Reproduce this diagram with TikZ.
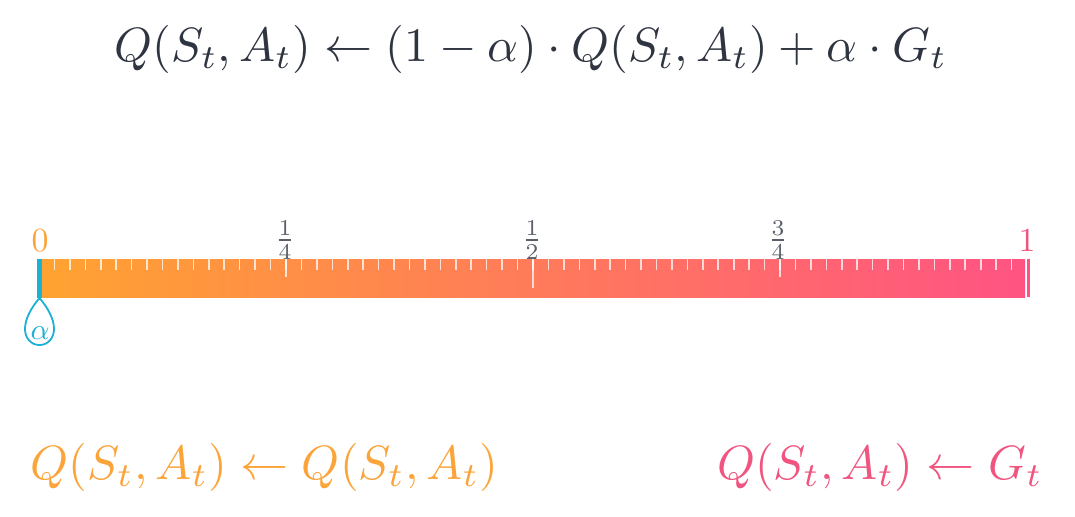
\documentclass[tikz,border=0pt]{standalone}
\usepackage{amsmath}
\usepackage{tikz}
\usetikzlibrary{positioning}
\definecolor{barOrange}{HTML}{FFA331}
\definecolor{barPink}{HTML}{FF5383}
\definecolor{txtOrange}{HTML}{FBA43A}
\definecolor{txtPink}{HTML}{F0557F}
\definecolor{eqDark}{HTML}{2E3440}
\definecolor{alphaCyan}{HTML}{1CB0D4}
\definecolor{tickGray}{HTML}{5A5F6A}

\begin{document}
\begin{tikzpicture}[
    x=0.025cm, y=-0.025cm,
    bigmath/.style={inner sep=0pt, scale=3.42},
    ticklabel/.style={inner sep=0pt, text=tickGray, scale=2.3},
    endlabel/.style={inner sep=0pt, scale=2.4},
    tick/.style={draw=white, line width=0.04cm, opacity=0.75},
]
\useasboundingbox (0,0) rectangle (1075,516);

% the update rule
\node[bigmath, text=eqDark] (eqtop) at (531,49)
    {$Q(S_t,A_t)\leftarrow(1-\alpha)\cdot Q(S_t,A_t)+\alpha\cdot G_t$};

% the slider
\shade[left color=barOrange, right color=barPink] (39,259) rectangle (1025,297);
\foreach \i in {1,...,63} {
    \draw[tick] ({39+\i*15.4375},259) -- ++(0,11);
}
\foreach \i in {1,3} {
    \draw[tick] ({39+\i*247},259) -- ++(0,18);
}
\draw[tick] (533,259) -- ++(0,29);
\draw[draw=barPink, line width=0.065cm] (1028.5,259) -- (1028.5,297);

\node[endlabel, text=txtOrange] (lab0) at (40,241) {$0$};
\node[ticklabel] (labq1) at (285,240) {$\frac{1}{4}$};
\node[ticklabel] (labq2) at (532,240) {$\frac{1}{2}$};
\node[ticklabel] (labq3) at (778,240) {$\frac{3}{4}$};
\node[endlabel, text=txtPink] (lab1) at (1027,241) {$1$};

% alpha marker
\draw[alphaCyan, line width=0.12cm] (39.5,259) -- (39.5,298);
\draw[alphaCyan, line width=0.045cm, fill=white]
    (39.5,298) .. controls (31,308) and (25,319) .. (25,329)
    .. controls (25,338) and (31,345) .. (39.5,345)
    .. controls (48,345) and (54,338) .. (54,329)
    .. controls (54,319) and (48,308) .. (39.5,298) -- cycle;
\node[inner sep=0pt, text=alphaCyan, scale=2.1] (alpha) at (40,333) {$\alpha$};

% the two extremes
\node[bigmath, text=txtOrange, anchor=west] (eqleft) at (30,467)
    {$Q(S_t,A_t)\leftarrow Q(S_t,A_t)$};
\node[bigmath, text=txtPink, anchor=east] (eqright) at (1044,467)
    {$Q(S_t,A_t)\leftarrow G_t$};
\end{tikzpicture}
\end{document}
